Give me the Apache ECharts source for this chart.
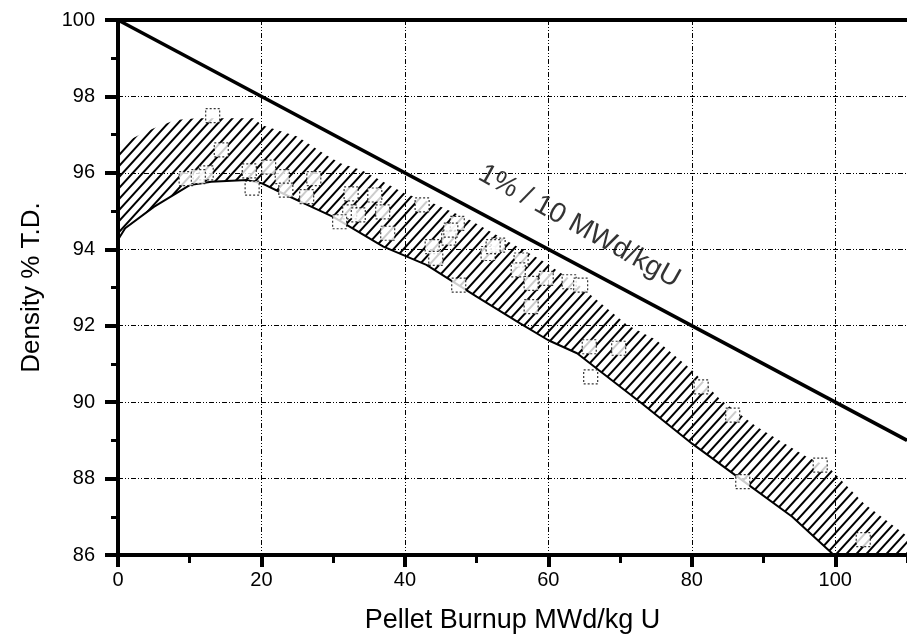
<!DOCTYPE html>
<html>
<head>
<meta charset="utf-8">
<script src="https://cdn.jsdelivr.net/npm/echarts@6/dist/echarts.min.js"></script>
<style>
  html, body { margin: 0; padding: 0; background: #fff; }
  #chart { width: 907px; height: 641px; }
</style>
</head>
<body>
<div id="chart"></div>
<script>
// measured density points (burnup MWd/kgU, density %TD)
const pointX = [13.2, 14.4, 9.5, 12.3, 11.2, 18.3, 18.7, 21, 22.9, 23.4, 26.3, 27.3, 32.5, 35.8, 32.3, 36.9,
  30.9, 42.4, 37.6, 47.3, 46.1, 43.8, 44.3, 46.4, 51.6, 53, 56.2, 55.8, 47.5, 57.6, 59.7, 62.9, 64.5,
  65.7, 69.8, 65.9, 81.3, 85.7, 87.1, 97.9, 103.9, 57.6, 33.5, 52.3];
const pointY = [97.5, 96.6, 95.85, 96.0, 95.9, 96.05, 95.6, 96.15, 95.9, 95.55, 95.38, 95.85, 95.45, 95.42, 94.98, 94.98,
  94.72, 95.16, 94.42, 94.68, 94.29, 94.07, 93.76, 94.5, 93.89, 94.11, 93.72, 93.46, 93.06, 93.11, 93.24, 93.15, 93.06,
  91.45, 91.41, 90.66, 90.4, 89.66, 87.92, 88.35, 86.4, 92.5, 94.9, 94.07];

// hatched scatter band
const upperX = [0, 3, 5, 8, 11, 19, 20, 25, 29, 31, 34, 40, 44, 49, 54, 59, 64, 71, 75, 80, 84, 89, 96, 99, 104, 110];
const upperY = [96.7, 97.0, 97.17, 97.38, 97.43, 97.43, 97.25, 96.95, 96.47, 96.25, 96.07, 95.46, 95.2, 94.77, 94.24,
  93.72, 93.1, 92.02, 91.63, 90.84, 90.06, 89.36, 88.57, 88.31, 87.35, 86.5];
const lowerX = [0, 1, 5, 10, 13, 18, 20, 23, 27, 30, 37, 43, 50, 56, 60, 64, 67, 73, 80, 87, 94, 99.5, 110];
const lowerY = [94.25, 94.55, 95.11, 95.68, 95.77, 95.81, 95.73, 95.46, 95.11, 94.85, 94.07, 93.59, 92.76, 92.07,
  91.62, 91.28, 90.84, 89.97, 88.92, 87.96, 87.0, 86.05, 84.6];

// reference line 1% / 10 MWd/kgU
const refX = [0, 110];
const refY = [100, 89];
const refLabel = '1% / 10 MWd/kgU';
const refLabelAt = [64.3, 94.6];

const xTicks = [0, 20, 40, 60, 80, 100];
const yTicks = [86, 88, 90, 92, 94, 96, 98, 100];

const chart = echarts.init(document.getElementById('chart'));

// diagonal hatch pattern
const tile = document.createElement('canvas');
tile.width = 10;
tile.height = 11;
const tc = tile.getContext('2d');
tc.strokeStyle = '#000';
tc.lineWidth = 2;
tc.beginPath();
tc.moveTo(-1, 1.1); tc.lineTo(1, -1.1);
tc.moveTo(0, 11); tc.lineTo(10, 0);
tc.moveTo(9, 12.1); tc.lineTo(11, 9.9);
tc.stroke();

const gridDash = [5, 2, 1, 2, 1, 2];
const font = '"Liberation Sans", Arial, sans-serif';

const option = {
  backgroundColor: '#fff',
  animation: false,
  grid: { left: 118, right: -8, top: 20, bottom: 86 },
  xAxis: [
    {
      type: 'value', min: 0, max: 110, interval: 20, position: 'bottom',
      name: 'Pellet Burnup MWd/kg U', nameLocation: 'middle', nameGap: 52,
      nameTextStyle: { fontFamily: font, fontSize: 27, color: '#000' },
      axisLine: { onZero: false, lineStyle: { color: '#000', width: 4 } },
      axisTick: { length: 12, lineStyle: { color: '#000', width: 4 } },
      axisLabel: { fontFamily: font, fontSize: 20, color: '#000', margin: 15, showMaxLabel: false,
        formatter: v => xTicks.includes(v) ? String(v) : '' },
      splitLine: { show: true, lineStyle: { color: '#000', width: 1, type: gridDash } }
    },
    {
      type: 'value', min: 0, max: 110, interval: 10, position: 'bottom',
      axisLine: { show: false },
      axisTick: { length: 8, lineStyle: { color: '#000', width: 3 } },
      axisLabel: { show: false },
      splitLine: { show: false }
    },
    {
      type: 'value', min: 0, max: 110, position: 'top',
      axisLine: { onZero: false, lineStyle: { color: '#000', width: 4 } },
      axisTick: { show: false }, axisLabel: { show: false }, splitLine: { show: false }
    }
  ],
  yAxis: {
    type: 'value', min: 86, max: 100, interval: 2,
    name: 'Density % T.D.', nameLocation: 'middle', nameGap: 73,
    nameTextStyle: { fontFamily: font, fontSize: 26, color: '#000' },
    axisLine: { onZero: false, lineStyle: { color: '#000', width: 4 } },
    axisTick: { length: 13, lineStyle: { color: '#000', width: 4 } },
    minorTick: { show: true, splitNumber: 2, length: 7, lineStyle: { color: '#000', width: 3 } },
    axisLabel: { fontFamily: font, fontSize: 20, color: '#000', margin: 23,
      formatter: v => yTicks.includes(v) ? String(v) : '' },
    splitLine: { show: true, lineStyle: { color: '#000', width: 1, type: gridDash } }
  },
  series: [
    {
      type: 'custom',
      data: [0],
      z: 1,
      renderItem: (params, api) => {
        const pts = [];
        upperX.forEach((x, i) => pts.push(api.coord([x, upperY[i]])));
        for (let i = lowerX.length - 1; i >= 0; i--) pts.push(api.coord([lowerX[i], lowerY[i]]));
        const cs = params.coordSys;
        return {
          type: 'polygon',
          shape: { points: pts },
          style: { fill: { image: tile, repeat: 'repeat' }, stroke: null },
          clipPath: { type: 'rect', shape: { x: cs.x, y: cs.y, width: cs.width, height: cs.height } }
        };
      }
    },
    {
      // solid lower edge of the band
      type: 'line',
      data: lowerX.map((x, i) => [x, lowerY[i]]),
      symbol: 'none',
      z: 2,
      lineStyle: { color: '#000', width: 2 }
    },
    {
      type: 'line',
      data: refX.map((x, i) => [x, refY[i]]),
      symbol: 'none',
      z: 3,
      lineStyle: { color: '#000', width: 3.5 }
    },
    {
      type: 'scatter',
      data: pointX.map((x, i) => [x, pointY[i]]),
      symbol: 'rect',
      symbolSize: 14,
      z: 4,
      itemStyle: { color: '#fff', borderColor: '#000', borderWidth: 1.2, borderType: [2, 2] }
    },
    {
      type: 'scatter',
      data: [refLabelAt],
      symbolSize: 0,
      z: 5,
      label: {
        show: true, position: 'inside', rotate: -29, formatter: refLabel,
        fontFamily: font, fontSize: 28, color: '#000'
      }
    }
  ]
};

chart.setOption(option);
window.addEventListener('resize', () => chart.resize());
</script>
</body>
</html>
